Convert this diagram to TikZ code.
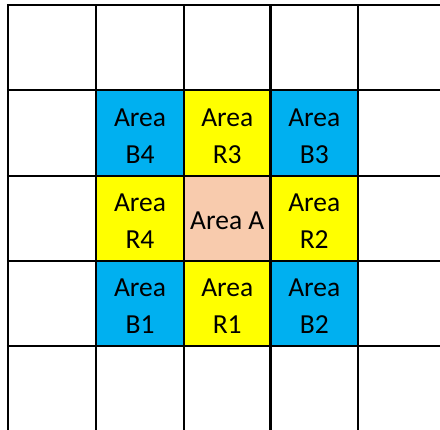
\documentclass[tikz,border=0pt]{standalone}
\usepackage{fontspec}
\setmainfont{Carlito}
\definecolor{cblue}{HTML}{00B0F0}
\definecolor{cyellow}{HTML}{FFFF00}
\definecolor{cpeach}{HTML}{F8CBAD}
\begin{document}
\begin{tikzpicture}[x=1pt,y=1pt,
  cell/.style={rectangle, draw=none, minimum width=88pt, minimum height=86pt, inner sep=0pt},
  celltext/.style={inner sep=0pt, align=center, font=\fontsize{27.5}{37}\selectfont},
  gridline/.style={line width=2.5pt, black}]
\useasboundingbox (0,0) rectangle (440,430);
\fill[white] (0,0) rectangle (440,430);
% cells
\node[cell, fill=cblue]   (b4) at (140,297)   {};
\node[cell, fill=cyellow] (r3) at (227.25,297) {};
\node[cell, fill=cblue]   (b3) at (314.25,297) {};
\node[cell, fill=cyellow] (r4) at (140,211.5)   {};
\node[cell, fill=cpeach, minimum width=86.5pt]  (a)  at (227.25,211.5) {};
\node[cell, fill=cyellow] (r2) at (314.25,211.5) {};
\node[cell, fill=cblue]   (b1) at (140,126.5)   {};
\node[cell, fill=cyellow] (r1) at (227.25,126.5) {};
\node[cell, fill=cblue]   (b2) at (314.25,126.5) {};
% texts
\node[celltext] (tb4) at ([yshift=-3pt]b4.center) {Area\\B4};
\node[celltext] (tr3) at ([yshift=-3pt]r3.center) {Area\\R3};
\node[celltext] (tb3) at ([yshift=-3pt]b3.center) {Area\\B3};
\node[celltext] (tr4) at ([yshift=-3pt]r4.center) {Area\\R4};
\node[celltext] (ta)  at ([yshift=-2pt]a.center)  {Area A};
\node[celltext] (tr2) at ([yshift=-3pt]r2.center) {Area\\R2};
\node[celltext] (tb1) at ([yshift=-3pt]b1.center) {Area\\B1};
\node[celltext] (tr1) at ([yshift=-3pt]r1.center) {Area\\R1};
\node[celltext] (tb2) at ([yshift=-3pt]b2.center) {Area\\B2};
% grid
\foreach \x in {8,96,184,270.5,358}
  \draw[gridline] (\x,0) -- (\x,425);
\foreach \y in {425,340,254,169,84}
  \draw[gridline] (6.75,\y) -- (440,\y);
\end{tikzpicture}
\end{document}
